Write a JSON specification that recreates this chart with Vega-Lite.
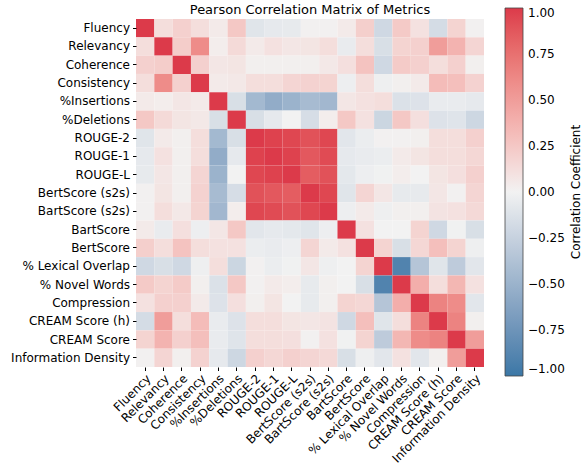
{
  "$schema": "https://vega.github.io/schema/vega-lite/v6.json",
  "width": 348,
  "height": 348,
  "autosize": {"type": "none"},
  "padding": {"left": 136, "top": 19, "right": 101, "bottom": 99},
  "background": "white",
  "config": {"font": "DejaVu Sans", "view": {"stroke": null}},
  "title": {"text": "Pearson Correlation Matrix of Metrics", "font": "DejaVu Sans", "fontSize": 13, "fontWeight": "normal", "color": "#000", "offset": -9, "anchor": "middle"},
  "data": {"values": [
    {"row": "Fluency", "Fluency": 1, "Relevancy": 0.12, "Coherence": 0.2, "Consistency": 0.12, "%Insertions": 0.05, "%Deletions": 0.25, "ROUGE-2": -0.1, "ROUGE-1": -0.07, "ROUGE-L": -0.06, "BertScore (s2s)": 0.01, "BartScore (s2s)": 0.01, "BartScore": 0.05, "BertScore": 0.21, "% Lexical Overlap": -0.2, "% Novel Words": 0.24, "Compression": 0.1, "CREAM Score (h)": -0.17, "CREAM Score": 0.18, "Information Density": 0.01},
    {"row": "Relevancy", "Fluency": 0.12, "Relevancy": 1, "Coherence": 0.22, "Consistency": 0.6, "%Insertions": 0.03, "%Deletions": 0.14, "ROUGE-2": 0.05, "ROUGE-1": 0.1, "ROUGE-L": 0.07, "BertScore (s2s)": 0.08, "BartScore (s2s)": 0.12, "BartScore": -0.05, "BertScore": 0.12, "% Lexical Overlap": -0.15, "% Novel Words": 0.18, "Compression": 0.2, "CREAM Score (h)": 0.5, "CREAM Score": 0.37, "Information Density": 0.17},
    {"row": "Coherence", "Fluency": 0.2, "Relevancy": 0.22, "Coherence": 1, "Consistency": 0.2, "%Insertions": 0.07, "%Deletions": 0.08, "ROUGE-2": 0.02, "ROUGE-1": 0.02, "ROUGE-L": 0.02, "BertScore (s2s)": 0.02, "BartScore (s2s)": 0.06, "BartScore": 0.11, "BertScore": 0.28, "% Lexical Overlap": -0.2, "% Novel Words": 0.23, "Compression": 0.2, "CREAM Score (h)": 0.12, "CREAM Score": 0.2, "Information Density": 0.02},
    {"row": "Consistency", "Fluency": 0.12, "Relevancy": 0.6, "Coherence": 0.2, "Consistency": 1, "%Insertions": 0.05, "%Deletions": 0.06, "ROUGE-2": 0.12, "ROUGE-1": 0.12, "ROUGE-L": 0.17, "BertScore (s2s)": 0.19, "BartScore (s2s)": 0.18, "BartScore": -0.03, "BertScore": 0.12, "% Lexical Overlap": -0.02, "% Novel Words": 0.02, "Compression": 0.05, "CREAM Score (h)": 0.32, "CREAM Score": 0.3, "Information Density": 0.19},
    {"row": "%Insertions", "Fluency": 0.05, "Relevancy": 0.03, "Coherence": 0.07, "Consistency": 0.05, "%Insertions": 1, "%Deletions": -0.15, "ROUGE-2": -0.45, "ROUGE-1": -0.55, "ROUGE-L": -0.5, "BertScore (s2s)": -0.43, "BartScore (s2s)": -0.46, "BartScore": 0.07, "BertScore": 0.1, "% Lexical Overlap": 0.12, "% Novel Words": -0.13, "Compression": -0.12, "CREAM Score (h)": -0.05, "CREAM Score": -0.05, "Information Density": -0.07},
    {"row": "%Deletions", "Fluency": 0.25, "Relevancy": 0.14, "Coherence": 0.08, "Consistency": 0.06, "%Insertions": -0.15, "%Deletions": 1, "ROUGE-2": -0.15, "ROUGE-1": -0.07, "ROUGE-L": 0.0, "BertScore (s2s)": -0.16, "BartScore (s2s)": 0.03, "BartScore": 0.25, "BertScore": 0.1, "% Lexical Overlap": -0.22, "% Novel Words": 0.25, "Compression": 0.11, "CREAM Score (h)": -0.12, "CREAM Score": -0.11, "Information Density": -0.21},
    {"row": "ROUGE-2", "Fluency": -0.1, "Relevancy": 0.05, "Coherence": 0.02, "Consistency": 0.12, "%Insertions": -0.45, "%Deletions": -0.15, "ROUGE-2": 1, "ROUGE-1": 0.97, "ROUGE-L": 0.95, "BertScore (s2s)": 0.9, "BartScore (s2s)": 0.95, "BartScore": -0.09, "BertScore": -0.04, "% Lexical Overlap": 0.01, "% Novel Words": 0.01, "Compression": 0.02, "CREAM Score (h)": 0.12, "CREAM Score": 0.12, "Information Density": 0.2},
    {"row": "ROUGE-1", "Fluency": -0.07, "Relevancy": 0.1, "Coherence": 0.02, "Consistency": 0.12, "%Insertions": -0.55, "%Deletions": -0.07, "ROUGE-2": 0.97, "ROUGE-1": 1, "ROUGE-L": 0.97, "BertScore (s2s)": 0.87, "BartScore (s2s)": 0.93, "BartScore": -0.07, "BertScore": -0.05, "% Lexical Overlap": -0.04, "% Novel Words": 0.05, "Compression": 0.08, "CREAM Score (h)": 0.12, "CREAM Score": 0.12, "Information Density": 0.16},
    {"row": "ROUGE-L", "Fluency": -0.06, "Relevancy": 0.07, "Coherence": 0.02, "Consistency": 0.17, "%Insertions": -0.5, "%Deletions": 0.0, "ROUGE-2": 0.95, "ROUGE-1": 0.97, "ROUGE-L": 1, "BertScore (s2s)": 0.85, "BartScore (s2s)": 0.9, "BartScore": -0.08, "BertScore": -0.03, "% Lexical Overlap": -0.01, "% Novel Words": 0.03, "Compression": 0.0, "CREAM Score (h)": 0.08, "CREAM Score": 0.11, "Information Density": 0.2},
    {"row": "BertScore (s2s)", "Fluency": 0.01, "Relevancy": 0.08, "Coherence": 0.02, "Consistency": 0.19, "%Insertions": -0.43, "%Deletions": -0.16, "ROUGE-2": 0.9, "ROUGE-1": 0.87, "ROUGE-L": 0.85, "BertScore (s2s)": 1, "BartScore (s2s)": 0.95, "BartScore": -0.1, "BertScore": 0.17, "% Lexical Overlap": 0.07, "% Novel Words": -0.06, "Compression": -0.06, "CREAM Score (h)": 0.07, "CREAM Score": 0.01, "Information Density": 0.17},
    {"row": "BartScore (s2s)", "Fluency": 0.01, "Relevancy": 0.12, "Coherence": 0.06, "Consistency": 0.18, "%Insertions": -0.46, "%Deletions": 0.03, "ROUGE-2": 0.95, "ROUGE-1": 0.93, "ROUGE-L": 0.9, "BertScore (s2s)": 0.95, "BartScore (s2s)": 1, "BartScore": -0.03, "BertScore": 0.05, "% Lexical Overlap": -0.02, "% Novel Words": 0.02, "Compression": 0.02, "CREAM Score (h)": 0.09, "CREAM Score": 0.1, "Information Density": 0.15},
    {"row": "BartScore", "Fluency": 0.05, "Relevancy": -0.05, "Coherence": 0.11, "Consistency": -0.03, "%Insertions": 0.07, "%Deletions": 0.25, "ROUGE-2": -0.09, "ROUGE-1": -0.07, "ROUGE-L": -0.08, "BertScore (s2s)": -0.1, "BartScore (s2s)": -0.03, "BartScore": 1, "BertScore": 0.1, "% Lexical Overlap": 0.0, "% Novel Words": 0.0, "Compression": 0.18, "CREAM Score (h)": -0.2, "CREAM Score": -0.01, "Information Density": -0.15},
    {"row": "BertScore", "Fluency": 0.21, "Relevancy": 0.12, "Coherence": 0.28, "Consistency": 0.12, "%Insertions": 0.1, "%Deletions": 0.1, "ROUGE-2": -0.04, "ROUGE-1": -0.05, "ROUGE-L": -0.03, "BertScore (s2s)": 0.17, "BartScore (s2s)": 0.05, "BartScore": 0.1, "BertScore": 1, "% Lexical Overlap": 0.18, "% Novel Words": -0.15, "Compression": 0.16, "CREAM Score (h)": 0.3, "CREAM Score": 0.18, "Information Density": -0.02},
    {"row": "% Lexical Overlap", "Fluency": -0.2, "Relevancy": -0.15, "Coherence": -0.2, "Consistency": -0.02, "%Insertions": 0.12, "%Deletions": -0.22, "ROUGE-2": 0.01, "ROUGE-1": -0.04, "ROUGE-L": -0.01, "BertScore (s2s)": 0.07, "BartScore (s2s)": -0.02, "BartScore": 0.0, "BertScore": 0.18, "% Lexical Overlap": 1, "% Novel Words": -0.9, "Compression": -0.35, "CREAM Score (h)": -0.1, "CREAM Score": -0.3, "Information Density": -0.09},
    {"row": "% Novel Words", "Fluency": 0.24, "Relevancy": 0.18, "Coherence": 0.23, "Consistency": 0.02, "%Insertions": -0.13, "%Deletions": 0.25, "ROUGE-2": 0.01, "ROUGE-1": 0.05, "ROUGE-L": 0.03, "BertScore (s2s)": -0.06, "BartScore (s2s)": 0.02, "BartScore": 0.0, "BertScore": -0.15, "% Lexical Overlap": -0.9, "% Novel Words": 1, "Compression": 0.4, "CREAM Score (h)": 0.12, "CREAM Score": 0.35, "Information Density": 0.1},
    {"row": "Compression", "Fluency": 0.1, "Relevancy": 0.2, "Coherence": 0.2, "Consistency": 0.05, "%Insertions": -0.12, "%Deletions": 0.11, "ROUGE-2": 0.02, "ROUGE-1": 0.08, "ROUGE-L": 0.0, "BertScore (s2s)": -0.06, "BartScore (s2s)": 0.02, "BartScore": 0.18, "BertScore": 0.16, "% Lexical Overlap": -0.35, "% Novel Words": 0.4, "Compression": 1, "CREAM Score (h)": 0.65, "CREAM Score": 0.6, "Information Density": -0.09},
    {"row": "CREAM Score (h)", "Fluency": -0.17, "Relevancy": 0.5, "Coherence": 0.12, "Consistency": 0.32, "%Insertions": -0.05, "%Deletions": -0.12, "ROUGE-2": 0.12, "ROUGE-1": 0.12, "ROUGE-L": 0.08, "BertScore (s2s)": 0.07, "BartScore (s2s)": 0.09, "BartScore": -0.2, "BertScore": 0.3, "% Lexical Overlap": -0.1, "% Novel Words": 0.12, "Compression": 0.65, "CREAM Score (h)": 1, "CREAM Score": 0.65, "Information Density": 0.02},
    {"row": "CREAM Score", "Fluency": 0.18, "Relevancy": 0.37, "Coherence": 0.2, "Consistency": 0.3, "%Insertions": -0.05, "%Deletions": -0.11, "ROUGE-2": 0.12, "ROUGE-1": 0.12, "ROUGE-L": 0.11, "BertScore (s2s)": 0.01, "BartScore (s2s)": 0.1, "BartScore": -0.01, "BertScore": 0.18, "% Lexical Overlap": -0.3, "% Novel Words": 0.35, "Compression": 0.6, "CREAM Score (h)": 0.65, "CREAM Score": 1, "Information Density": 0.5},
    {"row": "Information Density", "Fluency": 0.01, "Relevancy": 0.17, "Coherence": 0.02, "Consistency": 0.19, "%Insertions": -0.07, "%Deletions": -0.21, "ROUGE-2": 0.2, "ROUGE-1": 0.16, "ROUGE-L": 0.2, "BertScore (s2s)": 0.17, "BartScore (s2s)": 0.15, "BartScore": -0.15, "BertScore": -0.02, "% Lexical Overlap": -0.09, "% Novel Words": 0.1, "Compression": -0.09, "CREAM Score (h)": 0.02, "CREAM Score": 0.5, "Information Density": 1}
  ]},
  "transform": [
    {"fold": ["Fluency", "Relevancy", "Coherence", "Consistency", "%Insertions", "%Deletions", "ROUGE-2", "ROUGE-1", "ROUGE-L", "BertScore (s2s)", "BartScore (s2s)", "BartScore", "BertScore", "% Lexical Overlap", "% Novel Words", "Compression", "CREAM Score (h)", "CREAM Score", "Information Density"], "as": ["col", "value"]}
  ],
  "mark": {"type": "rect"},
  "encoding": {
    "x": {"field": "col", "type": "nominal", "title": null,
      "sort": ["Fluency", "Relevancy", "Coherence", "Consistency", "%Insertions", "%Deletions", "ROUGE-2", "ROUGE-1", "ROUGE-L", "BertScore (s2s)", "BartScore (s2s)", "BartScore", "BertScore", "% Lexical Overlap", "% Novel Words", "Compression", "CREAM Score (h)", "CREAM Score", "Information Density"],
      "scale": {"paddingInner": 0, "paddingOuter": 0},
      "axis": {"labelAngle": -45, "labelAlign": "right", "labelBaseline": "top", "labelFont": "DejaVu Sans", "labelFontSize": 12, "labelColor": "#000", "domain": false, "ticks": true, "tickColor": "#000", "tickSize": 3.5, "labelPadding": 2}},
    "y": {"field": "row", "type": "nominal", "title": null,
      "sort": ["Fluency", "Relevancy", "Coherence", "Consistency", "%Insertions", "%Deletions", "ROUGE-2", "ROUGE-1", "ROUGE-L", "BertScore (s2s)", "BartScore (s2s)", "BartScore", "BertScore", "% Lexical Overlap", "% Novel Words", "Compression", "CREAM Score (h)", "CREAM Score", "Information Density"],
      "scale": {"paddingInner": 0, "paddingOuter": 0},
      "axis": {"labelFont": "DejaVu Sans", "labelFontSize": 12, "labelColor": "#000", "domain": false, "ticks": true, "tickColor": "#000", "tickSize": 3.5, "labelPadding": 3}},
    "color": {"field": "value", "type": "quantitative", "title": "Correlation Coefficient",
      "scale": {"domain": [-1, 1], "range": ["#3b77a6", "#f2f2f2", "#dc3a4a"], "domainMid": 0},
      "legend": {"orient": "none", "legendX": 369, "legendY": -11, "direction": "vertical", "gradientLength": 368, "gradientThickness": 18, "gradientStrokeColor": "#444", "gradientStrokeWidth": 0.8,
        "values": [-1, -0.75, -0.5, -0.25, 0, 0.25, 0.5, 0.75, 1], "format": ".2f", "labelFont": "DejaVu Sans", "labelFontSize": 12, "labelColor": "#000", "labelOffset": 5,
        "titleOrient": "right", "titleFont": "DejaVu Sans", "titleFontSize": 12, "titleFontWeight": "normal", "titleColor": "#000", "titleAnchor": "middle", "titlePadding": 6,
        "encoding": {"title": {"angle": {"value": -90}, "baseline": {"value": "top"}}}}}
  }
}
